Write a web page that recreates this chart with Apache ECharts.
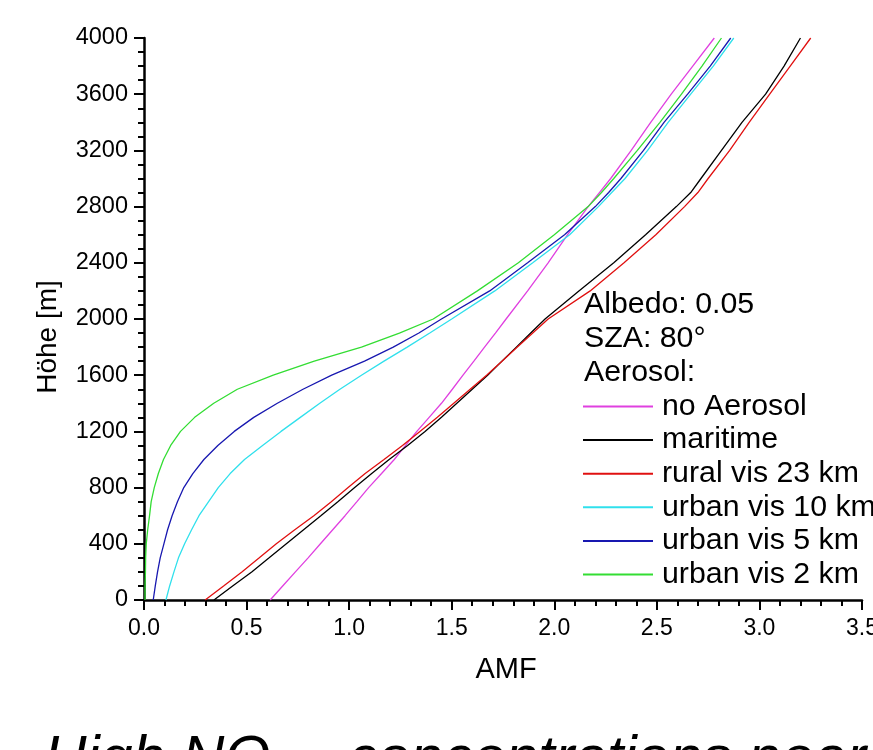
<!DOCTYPE html>
<html>
<head>
<meta charset="utf-8">
<script src="https://cdn.jsdelivr.net/npm/echarts@6/dist/echarts.min.js"></script>
<style>
html,body{margin:0;padding:0;background:#fff;}
#chart{width:873px;height:750px;}
</style>
</head>
<body>
<div id="chart"></div>
<script>
// Heights [m]
const heights = [0,100,200,300,400,500,600,700,800,900,1000,1100,1200,1300,1400,1500,1600,1700,1800,1900,2000,
                 2200,2400,2600,2800,2900,3000,3200,3400,3600,3800,4000];
// AMF values per aerosol scenario
const noAerosol = [0.615,0.676,0.738,0.800,0.860,0.920,0.980,1.038,1.095,1.158,1.220,1.275,1.330,1.390,1.450,1.503,1.555,1.608,1.660,1.713,1.765,
                   1.870,1.970,2.065,2.165,2.220,2.275,2.375,2.470,2.570,2.675,2.780];
const maritime  = [0.341,0.432,0.525,0.610,0.694,0.778,0.862,0.945,1.027,1.110,1.195,1.285,1.370,1.450,1.525,1.600,1.675,1.745,1.815,1.885,1.955,
                   2.120,2.290,2.445,2.595,2.665,2.715,2.815,2.915,3.030,3.120,3.200];
const rural23   = [0.298,0.388,0.477,0.562,0.645,0.735,0.828,0.913,0.995,1.078,1.170,1.260,1.345,1.430,1.510,1.590,1.670,1.745,1.820,1.895,1.970,
                   2.175,2.340,2.495,2.635,2.700,2.750,2.855,2.950,3.050,3.150,3.250];
const urban10   = [0.107,0.125,0.146,0.168,0.198,0.232,0.268,0.315,0.362,0.420,0.490,0.578,0.668,0.762,0.857,0.955,1.060,1.170,1.283,1.393,1.500,
                   1.710,1.895,2.075,2.215,2.280,2.345,2.455,2.555,2.665,2.775,2.875];
const urban5    = [0.045,0.055,0.066,0.079,0.097,0.115,0.137,0.163,0.194,0.238,0.292,0.360,0.440,0.535,0.650,0.775,0.915,1.075,1.215,1.340,1.450,
                   1.685,1.870,2.050,2.200,2.265,2.325,2.435,2.535,2.650,2.760,2.860];
const urban2    = [0.005,0.005,0.007,0.008,0.011,0.018,0.027,0.035,0.050,0.070,0.095,0.130,0.178,0.247,0.340,0.455,0.630,0.830,1.060,1.245,1.410,
                   1.625,1.825,2.000,2.165,2.230,2.290,2.405,2.515,2.620,2.720,2.815];

const seriesNames = ['no Aerosol','maritime','rural vis 23 km','urban vis 10 km','urban vis 5 km','urban vis 2 km'];
const seriesValues = [noAerosol, maritime, rural23, urban10, urban5, urban2];
const seriesColors = ['#e040e0','#000000','#e01010','#30e0ec','#1818b0','#33dd33'];
const infoLines = ['Albedo: 0.05','SZA: 80°','Aerosol:'];

const FONT = "'Liberation Sans', Arial, sans-serif";
const chart = echarts.init(document.getElementById('chart'), null, {renderer:'canvas'});

const series = seriesNames.map((name, k) => ({
  name: name,
  type: 'line',
  symbol: 'none',
  color: seriesColors[k],
  lineStyle: {width: 1.3, color: seriesColors[k]},
  emphasis: {disabled: true},
  data: seriesValues[k].map((a, i) => [a, heights[i]])
}));

const graphics = infoLines.map((t, i) => ({
  type: 'text', x: 584, y: 305 + i * 33.6,
  style: {text: t, fontSize: 30.3, fontFamily: FONT, fill: '#000', align: 'left', verticalAlign: 'middle'}
}));
graphics.push({
  type: 'text', x: 48, y: 337, rotation: Math.PI / 2,
  style: {text: 'Höhe [m]', fontSize: 28, fontFamily: FONT, fill: '#000', align: 'center', verticalAlign: 'middle'}
});
graphics.push({
  type: 'text', x: 506, y: 670,
  style: {text: 'AMF', fontSize: 29, fontFamily: FONT, fill: '#000', align: 'center', verticalAlign: 'middle'}
});
graphics.push({
  type: 'text', x: 44, y: 731,
  style: {text: 'High NO', fontSize: 59, fontStyle: 'italic', fontFamily: FONT, fill: '#000', align: 'left', verticalAlign: 'top'}
});
graphics.push({
  type: 'text', x: 293, y: 753,
  style: {text: '2', fontSize: 38, fontStyle: 'italic', fontFamily: FONT, fill: '#000', align: 'left', verticalAlign: 'top'}
});
graphics.push({
  type: 'text', x: 348, y: 731,
  style: {text: 'concentrations near', fontSize: 59, fontStyle: 'italic', fontFamily: FONT, fill: '#000', align: 'left', verticalAlign: 'top'}
});

chart.setOption({
  animation: false,
  backgroundColor: '#fff',
  grid: {left: 144, right: 11, top: 38, bottom: 150, containLabel: false, outerBoundsMode: 'none'},
  xAxis: {
    type: 'value', min: 0, max: 3.5, interval: 0.5,
    axisLine: {show: true, lineStyle: {color: '#000', width: 2.5}},
    axisTick: {show: true, length: 10, lineStyle: {color: '#000', width: 2}},
    minorTick: {show: true, splitNumber: 5, length: 6, lineStyle: {color: '#000', width: 2}},
    splitLine: {show: false},
    axisLabel: {fontSize: 23, fontFamily: FONT, color: '#000', margin: 17,
                formatter: v => v.toFixed(1), showMaxLabel: true, showMinLabel: true, hideOverlap: false}
  },
  yAxis: {
    type: 'value', min: 0, max: 4000, interval: 400,
    axisLine: {show: true, lineStyle: {color: '#000', width: 2.5}},
    axisTick: {show: true, length: 10, lineStyle: {color: '#000', width: 2}},
    minorTick: {show: true, splitNumber: 4, length: 6, lineStyle: {color: '#000', width: 2}},
    splitLine: {show: false},
    axisLabel: {fontSize: 23.5, fontFamily: FONT, color: '#000', margin: 16,
                formatter: v => String(v)}
  },
  legend: {
    show: true, orient: 'vertical', left: 583, top: 389.7, padding: 0,
    icon: 'rect', itemWidth: 70, itemHeight: 2, itemGap: 0,
    selectedMode: false,
    textStyle: {fontSize: 30.3, fontFamily: FONT, color: '#000', lineHeight: 33.6, padding: [0, 0, 0, 4]},
    data: seriesNames
  },
  graphic: graphics,
  series: series
});
</script>
</body>
</html>
